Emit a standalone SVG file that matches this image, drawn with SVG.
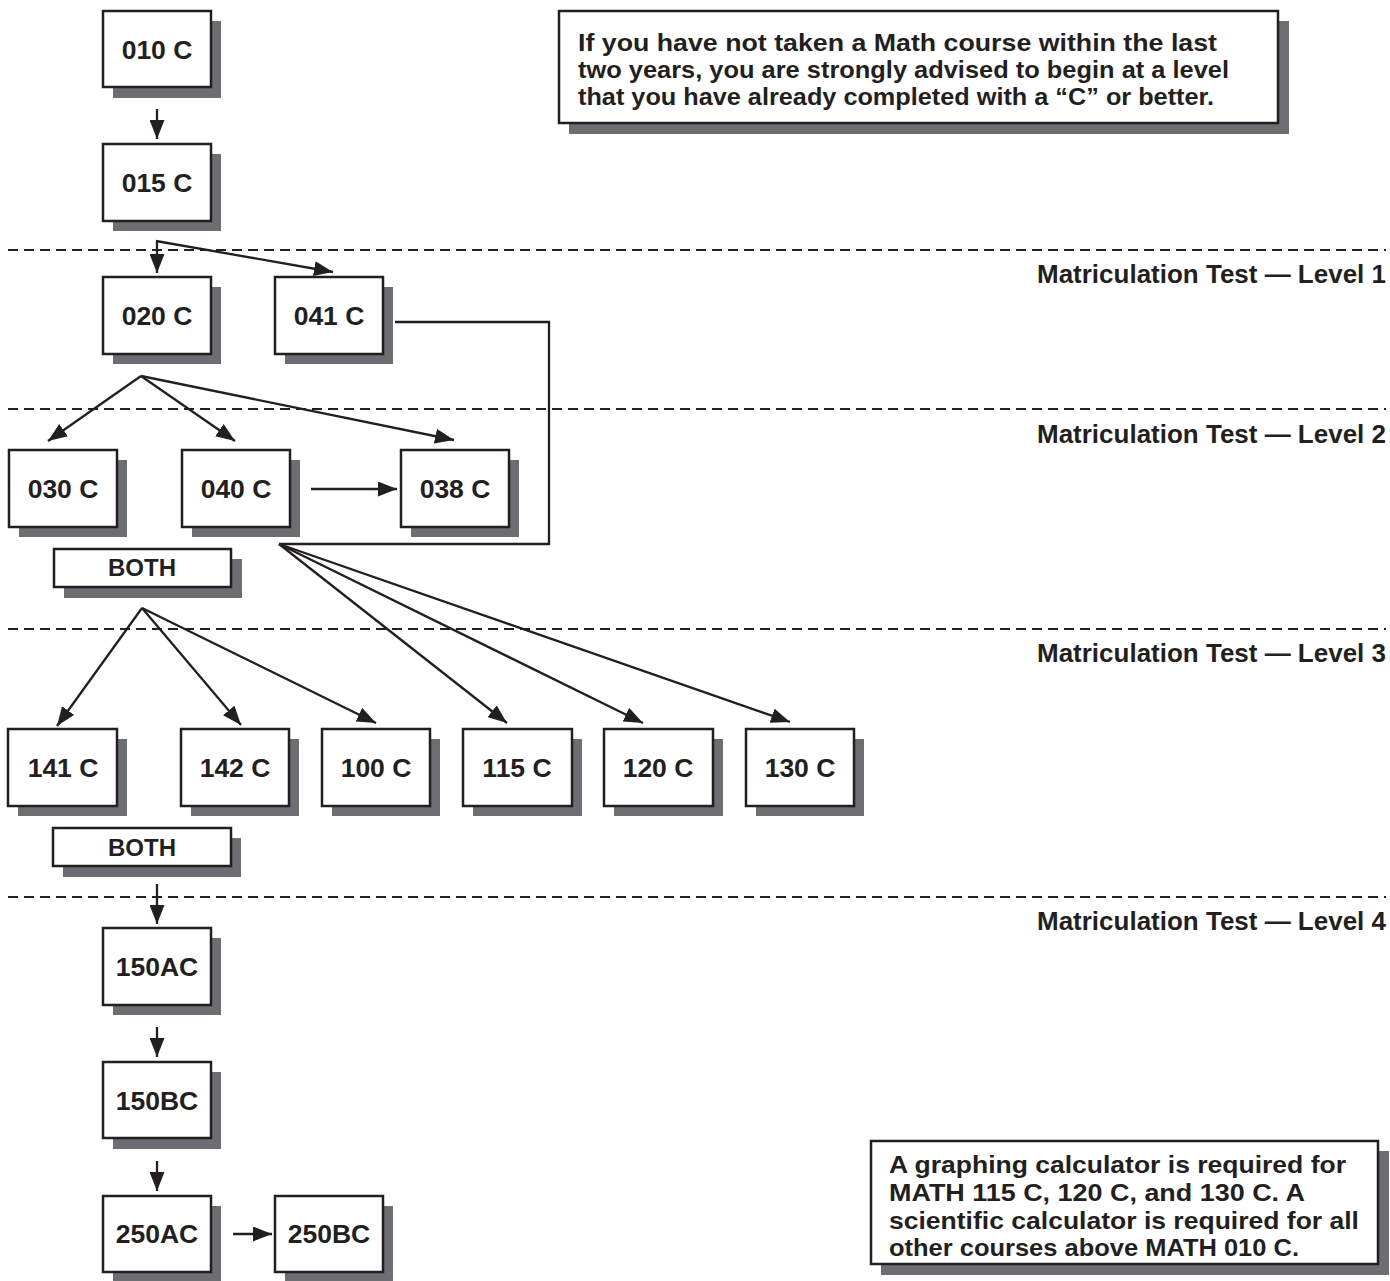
<svg xmlns="http://www.w3.org/2000/svg" width="1390" height="1281" viewBox="0 0 1390 1281">
<style>
.sh{fill:#6d6e71}
.bx{fill:#fff;stroke:#231f20;stroke-width:2.5}
.t{font-family:"Liberation Sans",Arial,sans-serif;font-weight:bold;font-size:26.5px;fill:#231f20;text-anchor:middle}
.tb{font-family:"Liberation Sans",Arial,sans-serif;font-weight:bold;font-size:24px;fill:#231f20;text-anchor:middle}
.lv{font-family:"Liberation Sans",Arial,sans-serif;font-weight:bold;font-size:25px;fill:#231f20;text-anchor:end}
.nt{font-family:"Liberation Sans",Arial,sans-serif;font-weight:bold;font-size:24px;fill:#231f20}
.c{fill:none;stroke:#231f20;stroke-width:2.3}
.d{fill:none;stroke:#231f20;stroke-width:2.2;stroke-dasharray:10 6}
</style>
<defs>
<marker id="ah" markerUnits="userSpaceOnUse" markerWidth="19" markerHeight="15" refX="19" refY="7.5" orient="auto">
<path d="M0,0 L19,7.5 L0,15 z" fill="#231f20"/>
</marker>
</defs>
<rect width="1390" height="1281" fill="#fff"/>
<g id="levels">
<line class="d" x1="8" y1="250" x2="1386" y2="250"/>
<line class="d" x1="8" y1="409" x2="1386" y2="409"/>
<line class="d" x1="8" y1="629" x2="1386" y2="629"/>
<line class="d" x1="8" y1="897" x2="1386" y2="897"/>
<text class="lv" x="1386" y="283" textLength="349" lengthAdjust="spacingAndGlyphs">Matriculation Test — Level 1</text>
<text class="lv" x="1386" y="443" textLength="349" lengthAdjust="spacingAndGlyphs">Matriculation Test — Level 2</text>
<text class="lv" x="1386" y="662" textLength="349" lengthAdjust="spacingAndGlyphs">Matriculation Test — Level 3</text>
<text class="lv" x="1386" y="930" textLength="349" lengthAdjust="spacingAndGlyphs">Matriculation Test — Level 4</text>
</g>
<g id="connectors">
<line class="c" x1="157" y1="109" x2="157" y2="139" marker-end="url(#ah)"/>
<line class="c" x1="157" y1="241" x2="157" y2="273" marker-end="url(#ah)"/>
<line class="c" x1="156" y1="241" x2="333" y2="272" marker-end="url(#ah)"/>
<path class="c" d="M395,322 H549 V544 H279"/>
<line class="c" x1="141" y1="376" x2="48" y2="441" marker-end="url(#ah)"/>
<line class="c" x1="141" y1="376" x2="235" y2="441" marker-end="url(#ah)"/>
<line class="c" x1="141" y1="376" x2="454" y2="440" marker-end="url(#ah)"/>
<line class="c" x1="311" y1="489" x2="397" y2="489" marker-end="url(#ah)"/>
<line class="c" x1="279" y1="544" x2="507" y2="723" marker-end="url(#ah)"/>
<line class="c" x1="279" y1="544" x2="643" y2="723" marker-end="url(#ah)"/>
<line class="c" x1="279" y1="544" x2="790" y2="722" marker-end="url(#ah)"/>
<line class="c" x1="142" y1="608" x2="57" y2="726" marker-end="url(#ah)"/>
<line class="c" x1="142" y1="608" x2="241" y2="725" marker-end="url(#ah)"/>
<line class="c" x1="142" y1="608" x2="376" y2="723" marker-end="url(#ah)"/>
<line class="c" x1="157" y1="884" x2="157" y2="924" marker-end="url(#ah)"/>
<line class="c" x1="157" y1="1027" x2="157" y2="1057" marker-end="url(#ah)"/>
<line class="c" x1="157" y1="1161" x2="157" y2="1191" marker-end="url(#ah)"/>
<line class="c" x1="233" y1="1234" x2="272" y2="1234" marker-end="url(#ah)"/>
</g>
<g id="n010"><rect class="sh" x="113" y="21" width="108" height="77"/><rect class="bx" x="103" y="11" width="108" height="76"/><text class="t" x="157" y="59">010 C</text></g>
<g id="n015"><rect class="sh" x="113" y="154" width="108" height="77"/><rect class="bx" x="103" y="144" width="108" height="77"/><text class="t" x="157" y="192">015 C</text></g>
<g id="n020"><rect class="sh" x="113" y="287" width="108" height="77"/><rect class="bx" x="103" y="277" width="108" height="77"/><text class="t" x="157" y="325">020 C</text></g>
<g id="n041"><rect class="sh" x="285" y="287" width="108" height="77"/><rect class="bx" x="275" y="277" width="108" height="77"/><text class="t" x="329" y="325">041 C</text></g>
<g id="n030"><rect class="sh" x="19" y="460" width="108" height="77"/><rect class="bx" x="9" y="450" width="108" height="77"/><text class="t" x="63" y="498">030 C</text></g>
<g id="n040"><rect class="sh" x="192" y="460" width="108" height="77"/><rect class="bx" x="182" y="450" width="108" height="77"/><text class="t" x="236" y="498">040 C</text></g>
<g id="n038"><rect class="sh" x="411" y="460" width="108" height="77"/><rect class="bx" x="401" y="450" width="108" height="77"/><text class="t" x="455" y="498">038 C</text></g>
<g id="both1"><rect class="sh" x="64" y="559" width="178" height="39"/><rect class="bx" x="54" y="549" width="177" height="38"/><text class="tb" x="142" y="576">BOTH</text></g>
<g id="n141"><rect class="sh" x="18" y="739" width="109" height="77"/><rect class="bx" x="8" y="729" width="109" height="77"/><text class="t" x="63" y="777">141 C</text></g>
<g id="n142"><rect class="sh" x="191" y="739" width="108" height="77"/><rect class="bx" x="181" y="729" width="108" height="77"/><text class="t" x="235" y="777">142 C</text></g>
<g id="n100"><rect class="sh" x="332" y="739" width="108" height="77"/><rect class="bx" x="322" y="729" width="108" height="77"/><text class="t" x="376" y="777">100 C</text></g>
<g id="n115"><rect class="sh" x="473" y="739" width="109" height="77"/><rect class="bx" x="463" y="729" width="109" height="77"/><text class="t" x="517" y="777">115 C</text></g>
<g id="n120"><rect class="sh" x="614" y="739" width="109" height="77"/><rect class="bx" x="604" y="729" width="109" height="77"/><text class="t" x="658" y="777">120 C</text></g>
<g id="n130"><rect class="sh" x="756" y="739" width="108" height="77"/><rect class="bx" x="746" y="729" width="108" height="77"/><text class="t" x="800" y="777">130 C</text></g>
<g id="both2"><rect class="sh" x="63" y="838" width="178" height="39"/><rect class="bx" x="53" y="828" width="178" height="38"/><text class="tb" x="142" y="856">BOTH</text></g>
<g id="n150a"><rect class="sh" x="113" y="938" width="108" height="77"/><rect class="bx" x="103" y="928" width="108" height="77"/><text class="t" x="157" y="976">150AC</text></g>
<g id="n150b"><rect class="sh" x="113" y="1072" width="108" height="77"/><rect class="bx" x="103" y="1062" width="108" height="76"/><text class="t" x="157" y="1110">150BC</text></g>
<g id="n250a"><rect class="sh" x="113" y="1206" width="108" height="76"/><rect class="bx" x="103" y="1196" width="108" height="76"/><text class="t" x="157" y="1243">250AC</text></g>
<g id="n250b"><rect class="sh" x="285" y="1206" width="108" height="76"/><rect class="bx" x="275" y="1196" width="108" height="76"/><text class="t" x="329" y="1243">250BC</text></g>
<g id="note1"><rect class="sh" x="569" y="21" width="720" height="113"/><rect class="bx" x="559" y="11" width="719" height="112"/>
<text class="nt" x="578" y="51" textLength="639" lengthAdjust="spacingAndGlyphs">If you have not taken a Math course within the last</text>
<text class="nt" x="578" y="78" textLength="651" lengthAdjust="spacingAndGlyphs">two years, you are strongly advised to begin at a level</text>
<text class="nt" x="578" y="105" textLength="636" lengthAdjust="spacingAndGlyphs">that you have already completed with a “C” or better.</text></g>
<g id="note2"><rect class="sh" x="881" y="1151" width="508" height="124"/><rect class="bx" x="871" y="1141" width="507" height="123"/>
<text class="nt" x="889" y="1173" textLength="457" lengthAdjust="spacingAndGlyphs">A graphing calculator is required for</text>
<text class="nt" x="889" y="1201" textLength="416" lengthAdjust="spacingAndGlyphs">MATH 115 C, 120 C, and 130 C. A</text>
<text class="nt" x="889" y="1229" textLength="470" lengthAdjust="spacingAndGlyphs">scientific calculator is required for all</text>
<text class="nt" x="889" y="1256" textLength="410" lengthAdjust="spacingAndGlyphs">other courses above MATH 010 C.</text></g>
</svg>
